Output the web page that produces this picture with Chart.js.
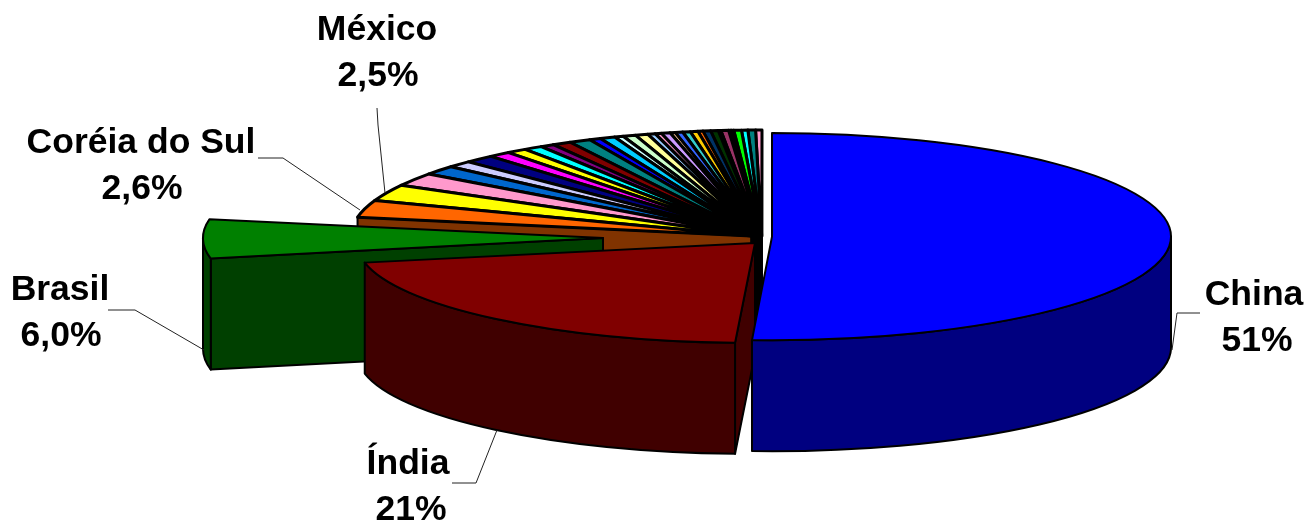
<!DOCTYPE html>
<html>
<head>
<meta charset="utf-8">
<style>
  html, body { margin: 0; padding: 0; background: #fff; }
  canvas { display: block; }
</style>
<script src="https://cdn.jsdelivr.net/npm/chart.js@4/dist/chart.umd.min.js"></script>
</head>
<body>
<canvas id="pie" width="1308" height="521"></canvas>
<script>
// Values, in percent. Only the five biggest are named there.
const categories = ['China', 'Índia', 'Brasil', 'Coréia do Sul', 'México'];
const shareValues = [50.9, 21.1, 6.0, 2.6, 2.5,
  2.0, 1.4, 1.0, 1.2, 0.9, 0.8, 0.75, 0.55, 0.75, 0.85,
  0.45, 0.6, 0.35, 0.5, 0.5, 0.3, 0.25, 0.35, 0.2, 0.3, 0.3, 0.3, 0.2, 0.3,
  0.3, 0.1, 0.3, 0.1, 0.1, 0.3, 0.25, 0.3, 0.25];
const shareLabels = ['51%', '21%', '6,0%', '2,6%', '2,5%'];
const sliceColors = ['#0000FF', '#800000', '#008000', '#FF6600', '#FFFF00',
  '#FF99CC', '#0066CC', '#CCCCFF', '#000080', '#FF00FF', '#FFFF00', '#00FFFF', '#800080', '#800000', '#008080',
  '#0000FF', '#00CCFF', '#CCFFFF', '#CCFFCC', '#FFFF99', '#99CCFF', '#FF99CC', '#CC99FF', '#FFCC99', '#3366FF', '#33CCCC', '#FFCC00', '#FF6600', '#003366',
  '#003300', '#333300', '#993366', '#333399', '#333333', '#00FF00', '#00FFFF', '#008080', '#FF99CC'];

// Projection of the pie: ellipse centre/radii per exploded slice, depth of the walls
const DEPTH = 111;
const BACK = { x: 762, y: 236, rx: 411, ry: 106 };
const EXPLODED = [
  { x: 772, y: 236.6, rx: 399, ry: 103.6 },
  { x: 755, y: 243, rx: 398, ry: 100 },
  { x: 603, y: 238, rx: 400, ry: 105 }
];

// Label anchors and leader lines, same order as categories
const LABEL_SPOTS = [
  { x: 1254, y: 305, dx: 3, line: [[1172, 350], [1177, 313], [1200, 313]] },
  { x: 408, y: 474, dx: 3, line: [[497, 430], [476, 483], [452, 483]] },
  { x: 60, y: 300, dx: 1, line: [[204, 350], [135, 310], [108, 310]] },
  { x: 141, y: 153, dx: 1, line: [[360, 210], [283, 158], [258, 158]] },
  { x: 377, y: 40, dx: 1, line: [[385, 193], [378, 125], [377, 108]] }
];

function darken(hex) {
  const n = parseInt(hex.slice(1), 16);
  const half = (v) => Math.round(v / 2);
  return `rgb(${half(n >> 16)}, ${half((n >> 8) & 255)}, ${half(n & 255)})`;
}

function geometryOf(index) {
  return EXPLODED[index] || BACK;
}

// Apex of the back slices drifts a little to the left with the angle
function apexOf(geo, angle) {
  if (geo !== BACK) return { x: geo.x, y: geo.y };
  return { x: geo.x - 11 * Math.abs(Math.cos(angle)), y: geo.y };
}

function rimPoint(geo, angle) {
  return { x: geo.x + geo.rx * Math.cos(angle), y: geo.y + geo.ry * Math.sin(angle) };
}

function drawPath(ctx, fill, build) {
  ctx.beginPath();
  build();
  ctx.closePath();
  ctx.fillStyle = fill;
  ctx.fill();
  ctx.stroke();
}

function drawTop(ctx, arc, index) {
  const geo = geometryOf(index);
  const apex = apexOf(geo, (arc.startAngle + arc.endAngle) / 2);
  drawPath(ctx, sliceColors[index], () => {
    ctx.moveTo(apex.x, apex.y);
    ctx.ellipse(geo.x, geo.y, geo.rx, geo.ry, 0, arc.startAngle, arc.endAngle);
  });
}

// Side wall under the rim, only the part that faces the viewer
function drawRimWall(ctx, arc, index) {
  const geo = geometryOf(index);
  const from = Math.max(arc.startAngle, 0);
  const to = Math.min(arc.endAngle, Math.PI);
  if (to <= from) return;
  drawPath(ctx, darken(sliceColors[index]), () => {
    ctx.ellipse(geo.x, geo.y, geo.rx, geo.ry, 0, from, to);
    ctx.ellipse(geo.x, geo.y + DEPTH, geo.rx, geo.ry, 0, to, from, true);
  });
}

// Flat wall going from the apex to the rim at the given angle
function drawCutWall(ctx, geo, angle, color) {
  const apex = apexOf(geo, angle);
  const rim = rimPoint(geo, angle);
  drawPath(ctx, darken(color), () => {
    ctx.moveTo(apex.x, apex.y);
    ctx.lineTo(rim.x, rim.y);
    ctx.lineTo(rim.x, rim.y + DEPTH);
    ctx.lineTo(apex.x, apex.y + DEPTH);
  });
}

const pie3d = {
  id: 'pie3d',
  beforeDatasetsDraw(chart) {
    const ctx = chart.ctx;
    const arcs = chart.getDatasetMeta(0).data;
    ctx.save();
    ctx.lineWidth = 2;
    ctx.strokeStyle = '#000';
    ctx.lineJoin = 'round';

    // back slices: hub of wall edges, then the wall Brasil uncovers, then the tops
    for (let i = arcs.length - 1; i >= 3; i--) {
      const apex = apexOf(BACK, (arcs[i].startAngle + arcs[i].endAngle) / 2);
      ctx.beginPath();
      ctx.moveTo(apex.x, apex.y);
      ctx.lineTo(apex.x, apex.y + DEPTH);
      ctx.stroke();
    }
    drawCutWall(ctx, BACK, arcs[3].startAngle, sliceColors[3]);
    ctx.lineWidth = 3;
    for (let i = arcs.length - 1; i >= 3; i--) drawTop(ctx, arcs[i], i);
    ctx.lineWidth = 2;

    // Brasil
    drawCutWall(ctx, EXPLODED[2], arcs[2].startAngle, sliceColors[2]);
    drawRimWall(ctx, arcs[2], 2);
    drawTop(ctx, arcs[2], 2);

    // Índia
    drawCutWall(ctx, EXPLODED[1], arcs[1].startAngle, sliceColors[1]);
    drawRimWall(ctx, arcs[1], 1);
    drawTop(ctx, arcs[1], 1);

    // China
    drawRimWall(ctx, arcs[0], 0);
    drawTop(ctx, arcs[0], 0);
    ctx.restore();
    return false;
  },
  afterDraw(chart) {
    const ctx = chart.ctx;
    ctx.save();
    ctx.strokeStyle = '#222';
    ctx.lineWidth = 1;
    ctx.fillStyle = '#000';
    ctx.font = 'bold 35.5px "Liberation Sans", Arial, sans-serif';
    ctx.textAlign = 'center';
    ctx.textBaseline = 'alphabetic';
    categories.forEach((name, i) => {
      const spot = LABEL_SPOTS[i];
      ctx.fillText(name, spot.x, spot.y);
      ctx.fillText(shareLabels[i], spot.x + spot.dx, spot.y + 46);
      ctx.beginPath();
      spot.line.forEach((p, j) => (j ? ctx.lineTo(p[0], p[1]) : ctx.moveTo(p[0], p[1])));
      ctx.stroke();
    });
    ctx.restore();
  }
};

new Chart(document.getElementById('pie'), {
  type: 'pie',
  data: {
    labels: shareValues.map((v, i) => categories[i] || ''),
    datasets: [{ data: shareValues, backgroundColor: 'transparent', borderWidth: 0 }]
  },
  options: {
    responsive: false,
    animation: false,
    plugins: { legend: { display: false }, tooltip: { enabled: false } }
  },
  plugins: [pie3d]
});
</script>
</body>
</html>
